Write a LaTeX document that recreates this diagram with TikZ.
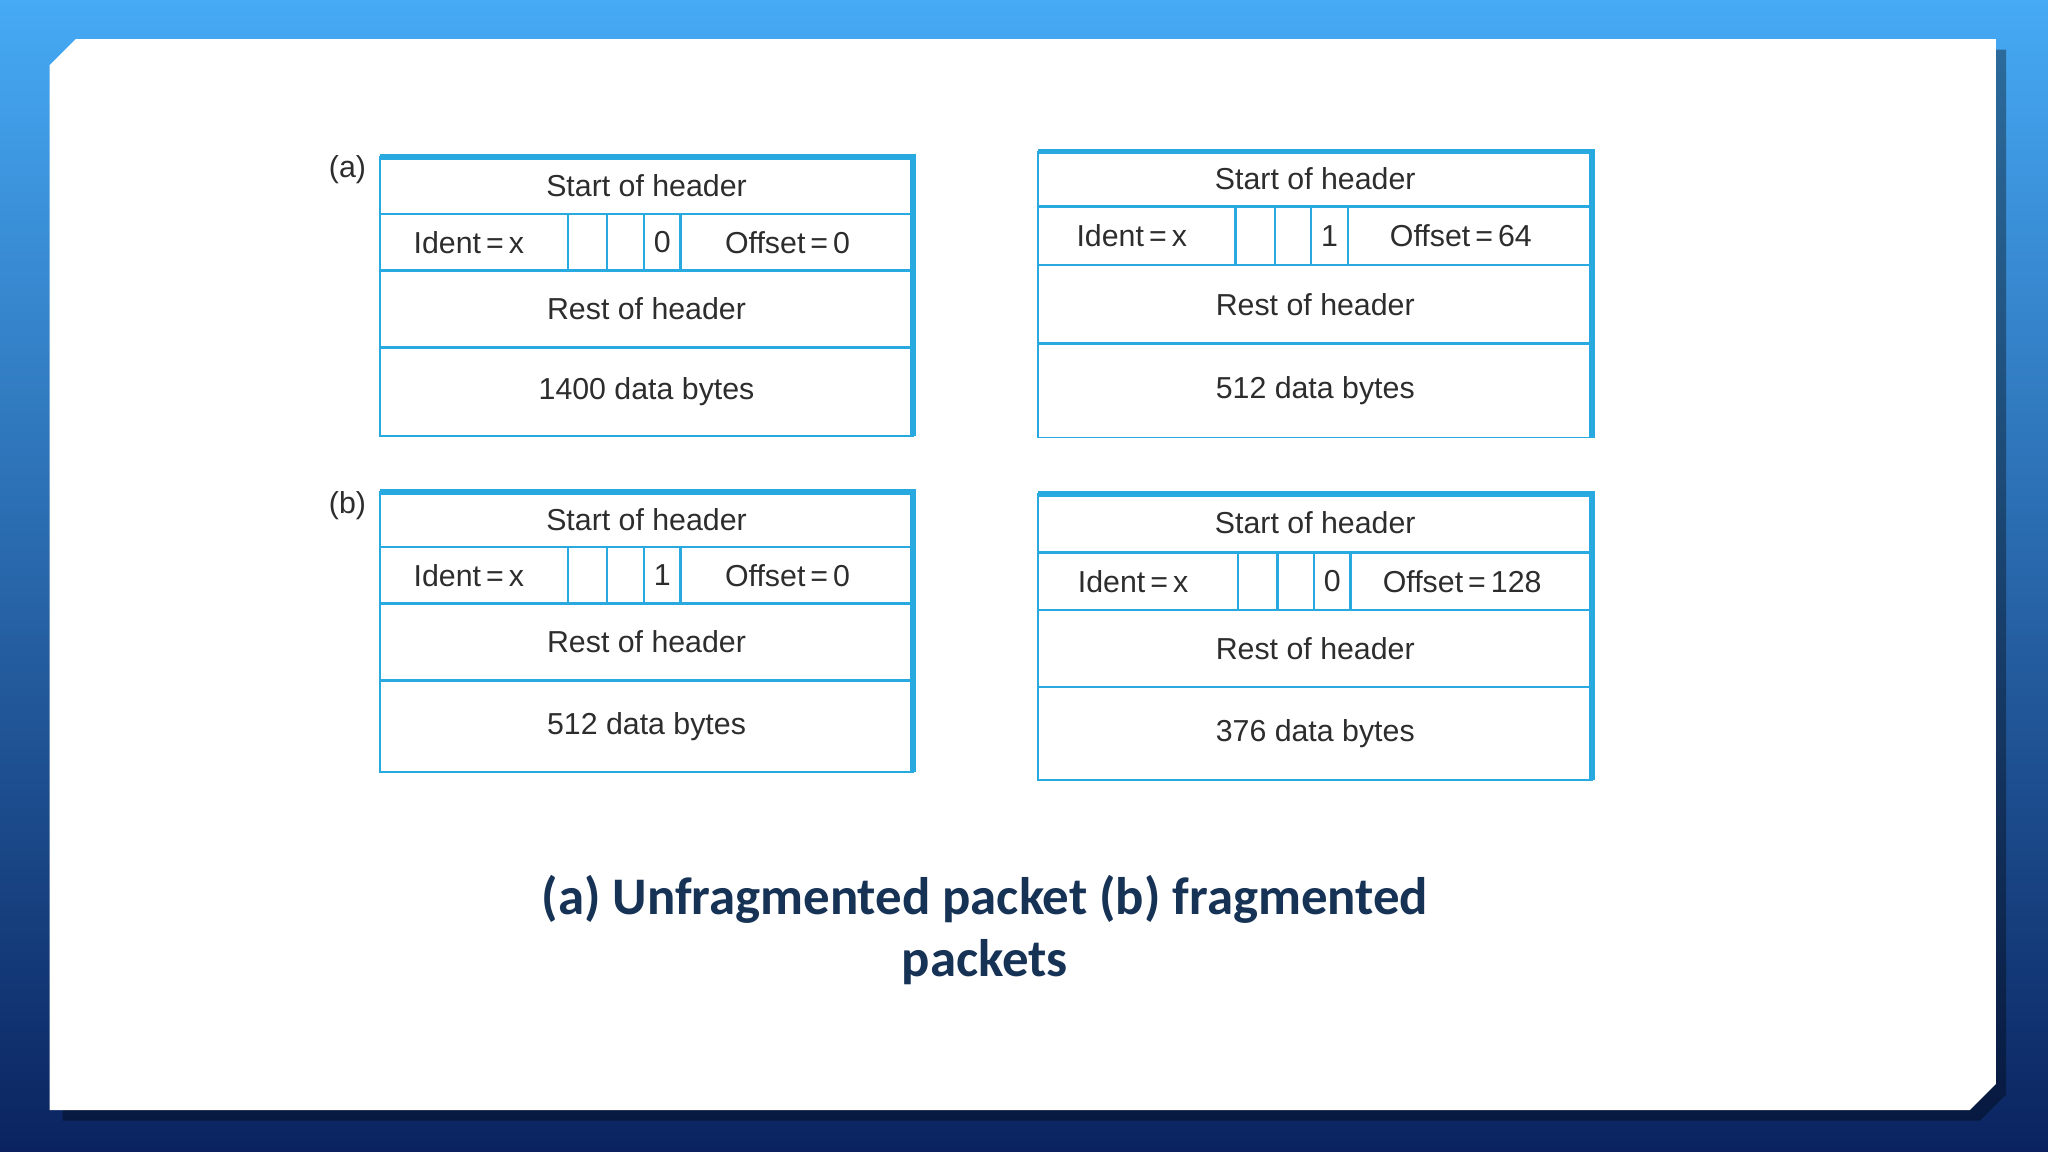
\documentclass[tikz,border=0pt]{standalone}
\usepackage{fontspec}
\setmainfont{Liberation Sans}
\newfontfamily\titlefont{Carlito}
\definecolor{cy}{RGB}{40,170,225}
\definecolor{tx}{RGB}{45,45,45}
\definecolor{navy}{RGB}{22,50,85}
\definecolor{bgtop}{RGB}{70,170,245}
\definecolor{bgbot}{RGB}{10,35,95}
\newcommand\pkt[9]{%
 \draw[cy,line width=0.4pt] (#2,#4) rectangle (#3,#8);
 \draw[cy,line width=1.3pt] (#2,#4)--(#3,#4)--(#3,#8);
 \draw[cy,line width=0.5pt] (#2,#5)--(#3,#5) (#2,#6)--(#3,#6) (#2,#7)--(#3,#7);
 \foreach \d in {0,30,58,86}{\draw[cy,line width=0.5pt] ({#9+\d},#5)--({#9+\d},#6);}
 \node[pt] (#1s) at ({(#2+#3)/2},{(#4+#5)/2}) {Start of header};
 \node[pt] (#1i) at ({(#2+#9)/2-4},{(#5+#6)/2}) {Ident\,=\,x};
 \node[pt] (#1r) at ({(#2+#3)/2},{(#6+#7)/2}) {Rest of header};
 \coordinate (#1c) at ({(#2+#3)/2},{(#7+#8)/2});
 \coordinate (#1f) at ({#9+72},{(#5+#6)/2});
 \coordinate (#1o) at ({(#9+86+#3)/2-7},{(#5+#6)/2});
}
\begin{document}
\begin{tikzpicture}[x=0.01cm,y=-0.01cm,pt/.style={text=tx,font=\fontsize{6.6}{8}\selectfont,inner sep=0pt}]
\useasboundingbox (0,0) rectangle (1568,882);
\shade[top color=bgtop,bottom color=bgbot] (0,0) rectangle (1568,882);
\fill[black,opacity=0.35] (48,58)--(68,38)--(1536,38)--(1536,838)--(1516,858)--(48,858)--cycle;
\fill[white] (38,50)--(58,30)--(1528,30)--(1528,830)--(1508,850)--(38,850)--cycle;
\pkt{a}{291}{699}{120}{164}{207}{266}{334}{435}
\node[pt] at (af) {0}; \node[pt] at (ao) {Offset\,=\,0}; \node[pt] (ad) at (ac) {1400 data bytes};
\pkt{t}{795}{1219}{116}{158}{203}{263}{335}{946}
\node[pt] at (tf) {1}; \node[pt] at (to) {Offset\,=\,64}; \node[pt] (td) at (tc) {512 data bytes};
\pkt{b}{291}{699}{377}{419}{462}{521}{591}{435}
\node[pt] at (bf) {1}; \node[pt] at (bo) {Offset\,=\,0}; \node[pt] (bd) at (bc) {512 data bytes};
\pkt{u}{795}{1219}{378}{423}{467}{526}{597}{948}
\node[pt] at (uf) {0}; \node[pt] at (uo) {Offset\,=\,128}; \node[pt] (ud) at (uc) {376 data bytes};
\node[pt] (la) at (266,130) {(a)};
\node[pt] (lb) at (266,387) {(b)};
\node[text=navy,font=\titlefont\bfseries\fontsize{11.5}{13.4}\selectfont,align=center] (title) at (754,712) {(a) Unfragmented packet (b) fragmented\\packets};
\end{tikzpicture}
\end{document}
